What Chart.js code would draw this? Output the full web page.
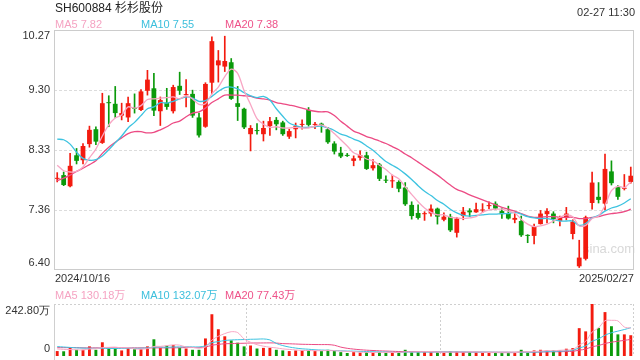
<!DOCTYPE html>
<html>
<head>
<meta charset="utf-8">
<script src="https://cdn.jsdelivr.net/npm/chart.js@4"></script>
<style>
  body { margin: 0; background: #fff; }
  #wrap { position: relative; width: 640px; height: 360px; overflow: hidden;
          font-family: "Liberation Sans", Arial, "Noto Sans CJK SC", sans-serif; }
  canvas { position: absolute; left: 0; }
  .t { position: absolute; white-space: nowrap; font-size: 11px; line-height: 12px; color: #333; }
</style>
</head>
<body>
<div id="wrap">
  <canvas id="kline" width="640" height="288" style="top:0"></canvas>
  <canvas id="vol" width="640" height="72" style="top:288px"></canvas>

  <div class="t" style="left:55px;top:1px;font-size:12px;line-height:14px;color:#222">SH600884 杉杉股份</div>
  <div class="t" style="right:5px;top:6px">02-27 11:30</div>

  <div class="t" style="left:55px;top:18px;color:#f5a3c2">MA5 7.82</div>
  <div class="t" style="left:141px;top:18px;color:#3cbfdc">MA10 7.55</div>
  <div class="t" style="left:225px;top:18px;color:#ee5289">MA20 7.38</div>

  <div class="t" style="left:55px;top:272px">2024/10/16</div>
  <div class="t" style="right:6px;top:272px">2025/02/27</div>

  <div class="t" style="left:55px;top:289px;color:#f5a3c2">MA5 130.18万</div>
  <div class="t" style="left:141px;top:289px;color:#3cbfdc">MA10 132.07万</div>
  <div class="t" style="left:225px;top:289px;color:#ee5289">MA20 77.43万</div>
</div>

<script>
// daily candles, 2024/10/16 .. 2025/02/27
const opens = [7.87,7.93,7.75,8.25,8.17,8.43,8.67,8.45,9.10,9.08,
  8.89,8.86,9.02,8.98,9.29,9.33,8.96,9.10,8.96,9.37,
  9.22,9.24,8.86,8.71,9.42,9.70,9.68,9.75,9.09,9.00,
  8.59,8.65,8.59,8.72,8.82,8.78,8.55,8.67,8.74,8.98,
  8.74,8.76,8.67,8.44,8.29,8.25,8.16,8.21,8.25,8.04,
  8.10,7.85,7.83,7.82,7.73,7.45,7.32,7.30,7.31,7.39,
  7.21,7.26,7.00,7.27,7.36,7.33,7.36,7.43,7.47,7.35,
  7.32,7.21,7.19,6.96,6.95,7.14,7.30,7.31,7.19,7.25,
  6.98,6.46,6.58,7.48,7.58,7.47,7.99,7.74,7.71,7.82];
const highs = [7.97,7.98,8.28,8.36,8.44,8.72,8.71,9.25,9.21,9.36,
  9.09,9.19,9.24,9.31,9.62,9.57,9.19,9.33,9.38,9.59,
  9.47,9.30,8.93,9.42,10.16,9.94,10.17,9.81,9.36,9.01,
  8.73,8.76,8.80,8.86,8.86,8.80,8.67,8.77,8.82,9.02,
  8.78,8.77,8.70,8.47,8.38,8.28,8.24,8.32,8.30,8.18,
  8.12,7.92,7.93,7.84,7.81,7.50,7.45,7.34,7.45,7.40,
  7.32,7.30,7.25,7.41,7.39,7.48,7.47,7.50,7.50,7.39,
  7.43,7.31,7.27,6.97,7.14,7.36,7.39,7.34,7.27,7.41,
  7.21,6.88,7.27,7.98,7.81,8.27,8.16,7.76,7.94,8.06];
const lows = [7.82,7.76,7.74,8.11,8.11,8.38,8.42,8.44,8.71,8.86,
  8.82,8.79,8.93,8.97,9.22,8.89,8.73,8.99,8.93,9.23,
  9.03,8.86,8.54,8.70,9.24,9.43,9.60,9.15,8.81,8.68,
  8.32,8.59,8.48,8.57,8.66,8.57,8.52,8.53,8.67,8.72,
  8.68,8.62,8.44,8.27,8.21,8.23,8.08,8.17,8.02,8.01,
  7.84,7.81,7.73,7.66,7.44,7.22,7.22,7.20,7.27,7.14,
  7.19,7.02,6.93,7.21,7.26,7.33,7.33,7.39,7.38,7.23,
  7.22,7.16,6.94,6.84,6.82,7.14,7.16,7.16,7.11,7.21,
  6.90,6.44,6.56,7.38,7.48,7.37,7.77,7.54,7.69,7.80];
const closes = [7.88,7.77,8.08,8.16,8.40,8.66,8.47,9.09,9.09,8.93,
  8.93,9.09,9.00,9.28,9.47,8.97,9.14,9.03,9.35,9.29,
  9.23,8.89,8.57,9.40,10.09,9.78,9.77,9.16,9.03,8.70,
  8.69,8.64,8.69,8.80,8.75,8.59,8.64,8.72,8.75,8.74,
  8.75,8.74,8.46,8.31,8.23,8.24,8.20,8.25,8.03,8.09,
  7.87,7.84,7.84,7.71,7.46,7.27,7.24,7.31,7.39,7.26,
  7.26,7.04,7.23,7.34,7.33,7.38,7.37,7.44,7.39,7.30,
  7.23,7.24,6.96,6.95,7.11,7.31,7.35,7.22,7.25,7.31,
  7.18,6.60,7.25,7.81,7.53,8.03,7.80,7.58,7.72,7.92];

const ma5 = [8.09,8.00,7.98,7.99,8.06,8.21,8.35,8.56,8.74,8.85,
  8.90,9.03,9.01,9.05,9.15,9.16,9.17,9.18,9.19,9.16,
  9.21,9.16,9.07,9.08,9.24,9.35,9.52,9.64,9.57,9.29,
  9.07,8.84,8.75,8.70,8.71,8.69,8.69,8.70,8.69,8.69,
  8.72,8.74,8.69,8.60,8.50,8.40,8.29,8.25,8.19,8.16,
  8.09,8.02,7.93,7.87,7.74,7.62,7.50,7.40,7.33,7.29,
  7.29,7.25,7.24,7.23,7.24,7.26,7.33,7.37,7.38,7.38,
  7.35,7.32,7.22,7.14,7.10,7.11,7.14,7.19,7.25,7.29,
  7.26,7.11,7.12,7.23,7.27,7.44,7.68,7.75,7.73,7.82];
const ma10 = [8.51,8.50,8.43,8.30,8.20,8.17,8.18,8.24,8.34,8.45,
  8.56,8.69,8.78,8.89,9.00,9.03,9.10,9.09,9.12,9.16,
  9.19,9.17,9.12,9.13,9.20,9.28,9.34,9.35,9.32,9.26,
  9.21,9.18,9.20,9.14,9.00,8.88,8.77,8.73,8.70,8.70,
  8.71,8.72,8.69,8.65,8.59,8.56,8.51,8.47,8.40,8.33,
  8.24,8.15,8.09,8.03,7.95,7.86,7.76,7.67,7.60,7.52,
  7.46,7.38,7.32,7.28,7.27,7.28,7.29,7.30,7.30,7.31,
  7.31,7.33,7.30,7.26,7.24,7.23,7.23,7.21,7.19,7.19,
  7.19,7.12,7.15,7.24,7.28,7.35,7.40,7.43,7.48,7.55];
const ma20 = [7.84,7.88,7.93,7.99,8.04,8.10,8.16,8.28,8.38,8.46,
  8.53,8.60,8.63,8.63,8.61,8.62,8.66,8.71,8.77,8.80,
  8.87,8.93,8.95,9.01,9.10,9.16,9.22,9.22,9.22,9.21,
  9.20,9.17,9.16,9.14,9.10,9.08,9.06,9.04,9.01,8.98,
  8.96,8.95,8.95,8.89,8.80,8.72,8.64,8.60,8.55,8.52,
  8.48,8.44,8.39,8.34,8.27,8.21,8.14,8.07,8.00,7.93,
  7.85,7.77,7.70,7.66,7.61,7.57,7.53,7.49,7.45,7.41,
  7.38,7.35,7.31,7.27,7.25,7.25,7.26,7.26,7.25,7.25,
  7.25,7.23,7.23,7.25,7.26,7.29,7.31,7.32,7.34,7.38];

// volume, 万手
const volumes = [23,22,38,29,29,45,29,64,35,35,
  26,36,32,32,45,78,38,48,51,38,
  35,29,29,82,195,125,92,73,62,45,
  49,35,38,38,29,26,23,26,26,26,
  23,23,29,23,18,14,18,16,18,16,
  18,14,16,18,29,18,18,18,18,18,
  16,21,21,18,18,17,14,14,16,16,
  16,16,29,16,26,29,26,26,26,34,
  37,130,115,242.8,131,205,139,101,101,97];
const volMa5 = [33,31,30,29,28.2,32.6,34,39.2,40.4,41.6,
  37.8,39.2,32.8,32.2,34.2,44.6,45,48.2,52,50.6,
  42,40.2,36.4,42.6,74,92,104.6,113.4,109.4,79.4,
  64.2,52.8,45.8,41,37.8,33.2,30.8,28.4,26,25.4,
  24.8,24.8,25.4,24.8,23.2,21.4,20.4,17.8,16.8,16.4,
  17.2,16.4,16.4,16.4,19,19,19.8,20.2,20.2,18,
  17.6,18.2,18.8,18.8,18.8,19,17.6,16.2,15.8,15.4,
  15.2,15.6,18.6,18.6,20.6,23.2,25.2,24.6,26.6,28.2,
  29.8,50.6,68.4,111.8,131.2,164.8,166.6,163.8,135.4,130.18];
const volMa10 = [44,42,40,38,37,36,36,36,35,34.9,
  35.2,36.6,36,36.3,37.9,41.2,42.1,40.5,42.1,42.4,
  43.3,42.6,42.3,47.3,62.3,67,72.4,74.9,76,76.7,
  78.1,78.7,79.6,75.2,58.6,48.7,41.8,37.1,33.5,31.6,
  29,27.8,26.9,25.4,24.3,23.1,22.6,21.6,20.8,19.8,
  19.3,18.4,17.1,16.6,17.7,18.1,18.1,18.3,18.3,18.5,
  18.3,19,19.5,19.5,18.4,18.3,17.9,17.5,17.3,17.1,
  17.1,16.6,17.4,17.2,18,19.2,20.4,21.6,22.6,24.4,
  26.5,37.9,46.5,69.2,79.7,97.3,108.6,116.1,123.6,132.07];
const volMa20 = [39,39,39,39,38,38,38,38,38,38,
  38,38,38,38,38,38,38,38,38,38.65,
  39.25,39.6,39.15,41.8,50.1,54.1,57.25,57.7,59.05,59.55,
  60.7,60.65,60.95,61.25,60.45,57.85,57.1,56,54.75,54.15,
  53.55,53.25,53.25,50.3,41.45,35.9,32.2,29.35,27.15,25.7,
  24.15,23.1,22,21,21,20.6,20.35,19.95,19.55,19.15,
  18.8,18.7,18.3,18.05,18.05,18.2,18,17.9,17.8,17.8,
  17.7,17.8,18.45,18.35,18.2,18.75,19.15,19.55,19.95,20.75,
  21.8,27.25,31.95,43.2,48.8,58.2,64.5,68.8,73.1,77.43];

const priceTicks = [6.40, 7.36, 8.33, 9.30, 10.27];
const priceTickLabels = ['6.40', '7.36', '8.33', '9.30', '10.27'];
const volMax = 242.8;
const volTickLabels = ['0', '242.80万'];

const upColor = '#f31b0f';
const downColor = '#0b9a0b';
const ma5Color = '#f8a6c4';
const ma10Color = '#3dc3e0';
const ma20Color = '#ec4b84';
const labelFont = '11px "Liberation Sans", Arial, sans-serif';

const candleColors = closes.map((c, i) => c >= opens[i] ? upColor : downColor);
const xLabels = closes.map((_, i) => i);

const kFrame = {
  id: 'kFrame',
  beforeDatasetsDraw(chart) {
    const { ctx, chartArea: a, scales: { y } } = chart;
    ctx.save();
    ctx.strokeStyle = '#dcdcdc';
    ctx.lineWidth = 1;
    ctx.setLineDash([3, 2]);
    priceTicks.slice(1, -1).forEach(v => {
      const py = Math.round(y.getPixelForValue(v)) + 0.5;
      ctx.beginPath();
      ctx.moveTo(a.left, py);
      ctx.lineTo(a.right, py);
      ctx.stroke();
    });
    ctx.setLineDash([]);
    ctx.fillStyle = '#d8d8d8';
    ctx.font = '13px "Liberation Sans", Arial, sans-serif';
    ctx.textBaseline = 'middle';
    ctx.fillText('sina.com', 583, 249);
    ctx.restore();
  },
  afterDraw(chart) {
    const { ctx, chartArea: a, scales: { y } } = chart;
    ctx.save();
    ctx.strokeStyle = '#cccccc';
    ctx.lineWidth = 1;
    ctx.strokeRect(a.left + 0.5, a.top + 0.5, a.right - a.left - 1, a.bottom - a.top - 1);
    ctx.fillStyle = '#333';
    ctx.font = labelFont;
    ctx.textAlign = 'right';
    ctx.textBaseline = 'middle';
    priceTicks.forEach((v, i) => {
      let py = y.getPixelForValue(v);
      if (i === 0) py -= 7.5;
      if (i === priceTicks.length - 1) py += 5.5;
      ctx.fillText(priceTickLabels[i], 50, py);
    });
    ctx.restore();
  }
};

new Chart(document.getElementById('kline'), {
  type: 'bar',
  data: {
    labels: xLabels,
    datasets: [
      { type: 'line', data: ma5, borderColor: ma5Color, borderWidth: 1.3, pointRadius: 0, tension: 0.3, order: 1 },
      { type: 'line', data: ma10, borderColor: ma10Color, borderWidth: 1.3, pointRadius: 0, tension: 0.3, order: 1 },
      { type: 'line', data: ma20, borderColor: ma20Color, borderWidth: 1.3, pointRadius: 0, tension: 0.3, order: 1 },
      {
        data: opens.map((o, i) => [o, closes[i]]),
        backgroundColor: candleColors,
        barPercentage: 0.74, categoryPercentage: 1,
        grouped: false, minBarLength: 1, order: 2
      },
      {
        data: lows.map((l, i) => [l, highs[i]]),
        backgroundColor: candleColors,
        barThickness: 1, grouped: false, order: 3
      }
    ]
  },
  options: {
    responsive: false,
    animation: false,
    devicePixelRatio: 1,
    layout: { padding: { left: 54, right: 6, top: 30, bottom: 18 } },
    plugins: { legend: { display: false }, tooltip: { enabled: false } },
    scales: {
      x: { display: false },
      y: { display: false, min: priceTicks[0], max: priceTicks[priceTicks.length - 1] }
    }
  },
  plugins: [kFrame]
});

const volFrame = {
  id: 'volFrame',
  beforeDatasetsDraw(chart) {
    const { ctx, chartArea: a } = chart;
    ctx.save();
    ctx.strokeStyle = '#cfcfcf';
    ctx.lineWidth = 1;
    ctx.setLineDash([2, 2]);
    ctx.beginPath();
    ctx.moveTo(a.left, a.top + 0.5);
    ctx.lineTo(a.right, a.top + 0.5);
    [1, 2, 3].forEach(k => {
      const px = Math.round(a.left + (a.right - a.left) * k / 3) - 0.5;
      ctx.moveTo(px, a.top);
      ctx.lineTo(px, a.bottom);
    });
    ctx.stroke();
    ctx.setLineDash([]);
    ctx.beginPath();
    ctx.moveTo(a.left + 0.5, a.top);
    ctx.lineTo(a.left + 0.5, a.bottom + 4);
    ctx.stroke();
    ctx.restore();
  },
  afterDraw(chart) {
    const { ctx, chartArea: a } = chart;
    ctx.save();
    ctx.fillStyle = '#333';
    ctx.font = labelFont;
    ctx.textAlign = 'right';
    ctx.textBaseline = 'middle';
    ctx.fillText(volTickLabels[1], 50, a.top + 7);
    ctx.fillText(volTickLabels[0], 50, a.bottom - 7.5);
    ctx.restore();
  }
};

new Chart(document.getElementById('vol'), {
  type: 'bar',
  data: {
    labels: xLabels,
    datasets: [
      { type: 'line', data: volMa5, borderColor: ma5Color, borderWidth: 1, pointRadius: 0, tension: 0.3, order: 1 },
      { type: 'line', data: volMa10, borderColor: ma10Color, borderWidth: 1, pointRadius: 0, tension: 0.3, order: 1 },
      { type: 'line', data: volMa20, borderColor: ma20Color, borderWidth: 1, pointRadius: 0, tension: 0.3, order: 1 },
      {
        data: volumes,
        backgroundColor: candleColors,
        barPercentage: 0.45, categoryPercentage: 1, order: 2
      }
    ]
  },
  options: {
    responsive: false,
    animation: false,
    devicePixelRatio: 1,
    layout: { padding: { left: 54, right: 6, top: 16, bottom: 4 } },
    plugins: { legend: { display: false }, tooltip: { enabled: false } },
    scales: {
      x: { display: false },
      y: { display: false, min: 0, max: volMax }
    }
  },
  plugins: [volFrame]
});
</script>
</body>
</html>
